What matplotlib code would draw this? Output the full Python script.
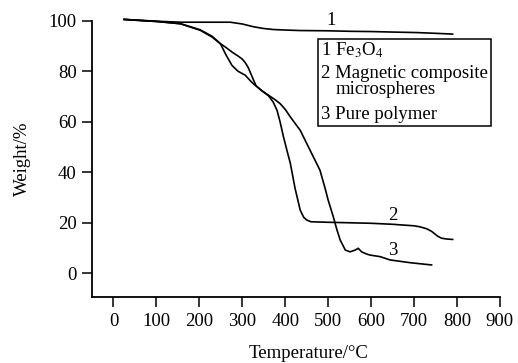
import matplotlib
matplotlib.use("Agg")
import matplotlib.pyplot as plt
from matplotlib.patches import Rectangle

# curve 1: Fe3O4
t1 = [25, 60, 100, 156, 200, 272, 300, 326, 350, 373, 400, 435, 500, 551, 600, 650, 706, 750, 790]
w1 = [100.5, 100.2, 99.8, 99.4, 99.4, 99.4, 98.7, 97.6, 96.9, 96.5, 96.3, 96.1, 96.0, 95.8, 95.7, 95.5, 95.3, 95.0, 94.7]

# curve 2: magnetic composite microspheres
t2 = [25, 60, 100, 156, 202, 230, 249, 262, 276, 292, 300, 307, 314, 320, 326, 332, 345, 361, 372, 381, 388, 396, 404,
      412, 423, 435, 443, 450, 460, 500, 600, 650, 700, 714, 730, 741, 755, 764, 775, 790]
w2 = [100.5, 100.1, 99.7, 98.8, 96.2, 93.5, 90.9, 89.4, 87.6, 85.8, 84.8, 83.4, 81.4, 79.0, 76.6, 74.3, 72.3, 70.3, 67.8, 64.5, 60.0, 54.0, 48.7,
      43.5, 33.6, 25.0, 22.2, 21.1, 20.4, 20.2, 19.8, 19.4, 18.8, 18.4, 17.6, 16.6, 14.7, 13.9, 13.6, 13.4]

# curve 3: pure polymer
t3 = [25, 60, 100, 156, 202, 230, 249, 262, 276, 290, 307, 320, 330, 345, 361, 375, 388, 400, 412, 435,
      458, 481, 493, 500, 512, 520, 528, 540, 551, 563, 570, 578, 590, 598, 621, 644, 691, 741]
w3 = [100.5, 100.1, 99.7, 98.8, 96.4, 93.8, 90.9, 86.5, 82.3, 80.0, 78.4, 76.0, 74.4, 72.4, 70.5, 68.9, 67.2, 64.9, 61.9, 56.6,
      48.7, 40.8, 33.6, 29.0, 22.4, 17.5, 13.2, 9.2, 8.5, 9.2, 9.9, 8.5, 7.6, 7.2, 6.6, 5.3, 4.2, 3.3]

xticks = [0, 100, 200, 300, 400, 500, 600, 700, 800, 900]
yticks = [0, 20, 40, 60, 80, 100]

legend_lines = ["1 Fe$_3$O$_4$", "2 Magnetic composite", "microspheres", "3 Pure polymer"]

plt.rcParams['font.family'] = 'Liberation Serif'
plt.rcParams['mathtext.fontset'] = 'stix'
plt.rcParams['font.size'] = 13.5

fig = plt.figure(figsize=(5.18, 3.63), dpi=100)
ax = fig.add_axes([0.1776, 0.181, 0.7874, 0.762])

for t, w in [(t1, w1), (t2, w2), (t3, w3)]:
    ax.plot(t, w, color='black', linewidth=1.2, clip_on=False)

ax.text(508, 98.3, "1", ha='center', va='baseline', fontsize=13.5)
ax.text(651, 21.1, "2", ha='center', va='baseline', fontsize=13.5)
ax.text(650, 7.2, "3", ha='center', va='baseline', fontsize=13.5)

ax.set_xlim(-50, 900)
ax.set_ylim(-9.5, 100)
ax.set_xticks(xticks)
ax.set_yticks(yticks)
for s in ['top', 'right']:
    ax.spines[s].set_visible(False)
for s in ['left', 'bottom']:
    ax.spines[s].set_linewidth(1.3)
ax.tick_params(direction='out', length=7, width=1.1, pad=4, labelsize=13.5)

ax.set_ylabel("Weight/%", labelpad=13, fontsize=13.5)
ax.set_xlabel("Temperature/\u00b0C", fontsize=13.5)
ax.xaxis.set_label_coords(0.532, -0.171)

# legend box, in figure pixels
W, H = 518.0, 363.0
fig.patches.append(Rectangle((317.7 / W, 1 - 125.7 / H), 173 / W, 86.4 / H,
                             transform=fig.transFigure, fill=False,
                             edgecolor='black', linewidth=1.1))
pos = [(320.7, 55), (320.7, 77.5), (336, 94), (320.7, 119)]
for txt, (px, py) in zip(legend_lines, pos):
    fig.text(px / W, 1 - py / H, txt, ha='left', va='baseline', fontsize=13.5)

plt.savefig('out.png', dpi=100)
